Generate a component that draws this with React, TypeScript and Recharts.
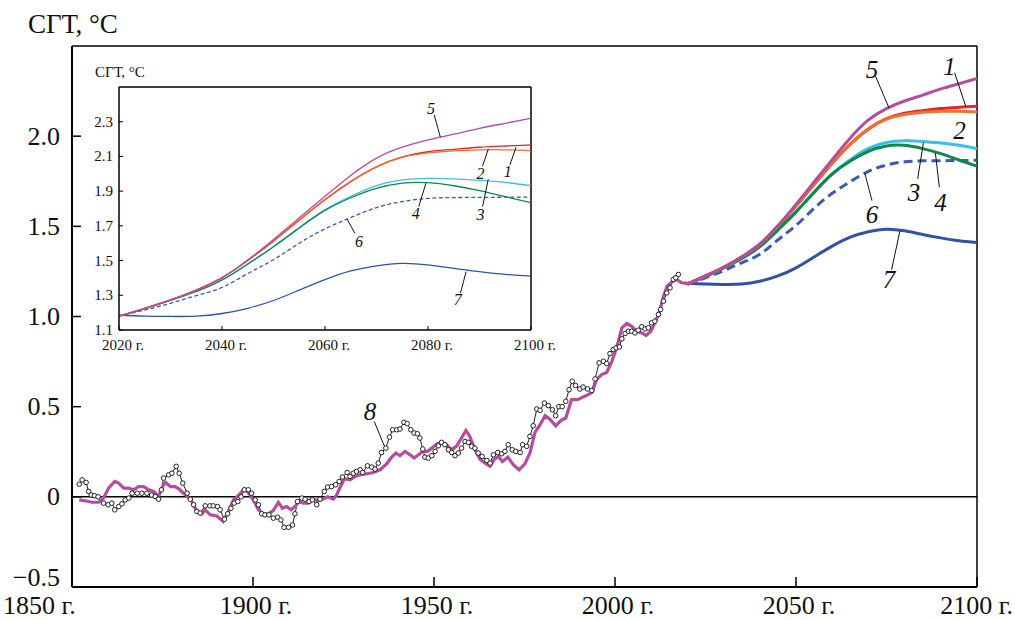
import React from 'react';
import { ComposedChart, Line, XAxis, YAxis, ReferenceLine, ReferenceDot } from 'recharts';

const FONT = '"Liberation Serif", "Times New Roman", Times, serif';

// ---- ticks ----
const mainXTicks = [1850, 1900, 1950, 2000, 2050, 2100];
const mainYTicks = [-0.5, 0, 0.5, 1.0, 1.5, 2.0];
const insetXTicks = [2020, 2040, 2060, 2080, 2100];
const insetYTicks = [1.1, 1.3, 1.5, 1.7, 1.9, 2.1, 2.3];

// ---- series 8: observations ----
const obsYears = [
  1852.0, 1852.8, 1853.9, 1854.6, 1855.3, 1856.2, 1857.2, 1858.7, 1860.0, 1861.0,
  1861.8, 1862.9, 1863.8, 1864.7, 1865.7, 1866.6, 1868.0, 1869.3, 1870.7, 1872.0,
  1873.0, 1873.9, 1874.7, 1875.3, 1876.7, 1877.6, 1878.8, 1879.6, 1880.6, 1881.8,
  1882.7, 1883.6, 1884.5, 1885.4, 1886.8, 1888.1, 1889.0, 1890.2, 1890.9, 1892.1,
  1893.0, 1893.9, 1894.8, 1895.8, 1896.7, 1897.6, 1898.7, 1899.6, 1900.6, 1901.5,
  1902.4, 1903.3, 1904.4, 1905.6, 1906.8, 1907.7, 1908.6, 1909.8, 1910.9, 1911.6,
  1912.3, 1913.5, 1914.4, 1915.5, 1916.4, 1917.6, 1918.5, 1919.7, 1920.6, 1921.7,
  1922.8, 1923.8, 1924.7, 1926.0, 1926.8, 1927.7, 1928.6, 1929.6, 1930.3, 1931.6,
  1932.8, 1933.7, 1934.6, 1935.5, 1936.7, 1937.7, 1938.6, 1939.7, 1940.6, 1941.7,
  1942.6, 1943.6, 1944.5, 1945.4, 1946.1, 1946.9, 1947.5, 1948.4, 1949.4, 1950.3,
  1951.2, 1952.1, 1953.0, 1954.0, 1954.9, 1955.8, 1956.7, 1957.6, 1958.6, 1959.5,
  1960.4, 1961.3, 1962.2, 1963.3, 1964.6, 1965.5, 1966.4, 1967.6, 1968.7, 1969.6,
  1970.5, 1971.6, 1972.6, 1973.8, 1974.5, 1975.6, 1976.5, 1977.4, 1978.4, 1979.3,
  1980.5, 1981.6, 1982.7, 1983.6, 1984.5, 1985.4, 1986.4, 1987.3, 1988.2, 1989.1,
  1990.3, 1991.2, 1992.4, 1993.6, 1994.5, 1995.6, 1996.8, 1997.7, 1998.6, 1999.5,
  2000.3, 2001.2, 2001.9, 2002.8, 2003.7, 2004.6, 2005.5, 2006.4, 2007.4, 2008.3,
  2009.2, 2010.1, 2011.0, 2012.0, 2012.6, 2013.4, 2014.3, 2015.2, 2016.1, 2016.8,
  2017.5,
];
const obsValues = [
  0.07, 0.094, 0.08, 0.03, 0.01, 0.006, 0.0, -0.035, -0.044, -0.035,
  -0.072, -0.054, -0.039, -0.017, -0.007, 0.02, 0.02, 0.02, 0.02, 0.01,
  0.002, -0.013, 0.039, 0.104, 0.122, 0.131, 0.169, 0.131, 0.076, 0.02,
  -0.013, -0.044, -0.081, -0.09, -0.05, -0.05, -0.05, -0.054, -0.072, -0.124,
  -0.094, -0.063, -0.035, -0.026, 0.0, 0.039, 0.039, 0.02, -0.017, -0.044,
  -0.094, -0.1, -0.1, -0.118, -0.113, -0.128, -0.169, -0.169, -0.156, -0.094,
  -0.026, -0.007, -0.013, -0.026, -0.017, -0.044, -0.013, 0.03, 0.054, 0.057,
  0.067, 0.085, 0.11, 0.135, 0.113, 0.131, 0.141, 0.15, 0.135, 0.172,
  0.165, 0.154, 0.187, 0.246, 0.27, 0.331, 0.372, 0.372, 0.376, 0.413,
  0.406, 0.372, 0.354, 0.35, 0.326, 0.265, 0.22, 0.215, 0.228, 0.252,
  0.283, 0.302, 0.289, 0.261, 0.246, 0.228, 0.243, 0.27, 0.307, 0.302,
  0.28, 0.27, 0.243, 0.224, 0.202, 0.187, 0.233, 0.246, 0.239, 0.252,
  0.289, 0.261, 0.252, 0.246, 0.289, 0.28, 0.335, 0.394, 0.487, 0.48,
  0.52, 0.506, 0.483, 0.45, 0.5, 0.5, 0.53, 0.594, 0.641, 0.617,
  0.598, 0.609, 0.598, 0.59, 0.654, 0.743, 0.752, 0.739, 0.794, 0.817,
  0.826, 0.831, 0.876, 0.906, 0.918, 0.918, 0.909, 0.924, 0.943, 0.931,
  0.937, 0.965, 0.974, 1.011, 1.039, 1.085, 1.131, 1.159, 1.206, 1.215,
  1.233,
];

// ---- historical model run (continues as scenario 5) ----
const histYears = [
  1852.0, 1853.7, 1855.5, 1857.4, 1858.7, 1860.1, 1861.8, 1862.9, 1864.3, 1865.7,
  1867.0, 1868.4, 1869.8, 1871.2, 1872.6, 1873.9, 1875.0, 1875.8, 1877.2, 1878.5,
  1879.6, 1880.8, 1882.0, 1883.1, 1884.5, 1885.9, 1886.8, 1888.2, 1890.0, 1891.8,
  1893.2, 1894.6, 1895.9, 1897.6, 1898.7, 1900.1, 1901.5, 1902.8, 1904.2, 1905.6,
  1907.0, 1908.1, 1909.3, 1910.5, 1911.6, 1912.7, 1913.9, 1915.3, 1916.4, 1917.9,
  1919.2, 1920.6, 1922.2, 1923.1, 1924.0, 1925.3, 1926.8, 1928.2, 1929.6, 1931.4,
  1933.2, 1935.1, 1936.9, 1938.3, 1939.5, 1940.6, 1942.0, 1943.4, 1944.5, 1945.7,
  1946.9, 1948.2, 1949.4, 1950.8, 1952.1, 1953.5, 1954.9, 1956.3, 1957.6, 1958.8,
  1959.9, 1961.3, 1962.7, 1964.1, 1965.5, 1966.7, 1967.8, 1968.9, 1970.4, 1971.9,
  1973.5, 1975.1, 1976.5, 1977.9, 1979.3, 1980.7, 1982.0, 1983.6, 1985.1, 1986.4,
  1988.0, 1989.7, 1991.2, 1992.6, 1993.7, 1994.9, 1996.3, 1997.7, 1999.1, 2000.5,
  2001.9, 2003.3, 2004.6, 2006.0, 2007.4, 2008.6, 2009.9, 2011.0, 2012.2, 2013.4,
  2014.4, 2015.7, 2017.0, 2018.4, 2019.6, 2020.0,
];
const histValues = [
  -0.017, -0.022, -0.03, -0.03, -0.007, 0.048, 0.085, 0.076, 0.048, 0.048,
  0.039, 0.057, 0.057, 0.039, 0.03, 0.002, 0.057, 0.08, 0.057, 0.057,
  0.043, 0.02, 0.002, -0.026, -0.081, -0.094, -0.072, -0.1, -0.106, -0.137,
  -0.081, -0.017, 0.006, 0.043, 0.024, -0.017, -0.072, -0.094, -0.094, -0.076,
  -0.031, -0.063, -0.054, -0.072, -0.054, -0.026, -0.035, -0.035, -0.017, -0.02,
  -0.013, 0.0, -0.013, 0.011, 0.05, 0.1, 0.094, 0.113, 0.122, 0.128,
  0.135, 0.15, 0.183, 0.22, 0.243, 0.228, 0.252, 0.233, 0.215, 0.233,
  0.252, 0.252, 0.27, 0.294, 0.302, 0.289, 0.261, 0.283, 0.326, 0.368,
  0.335, 0.262, 0.209, 0.187, 0.169, 0.209, 0.224, 0.196, 0.22, 0.178,
  0.15, 0.183, 0.243, 0.357, 0.4, 0.45, 0.431, 0.394, 0.424, 0.437,
  0.539, 0.539, 0.554, 0.567, 0.58, 0.65, 0.678, 0.69, 0.75, 0.83,
  0.937, 0.961, 0.946, 0.918, 0.909, 0.894, 0.918, 0.965, 1.02, 1.113,
  1.168, 1.191, 1.206, 1.187, 1.185, 1.18,
];

// ---- scenarios 2020-2100 ----
const projYears = [2020, 2025, 2030, 2035, 2040, 2045, 2050, 2055, 2060, 2065, 2070, 2075, 2080, 2085, 2090, 2095, 2100];
const proj1 = [1.18, 1.225, 1.273, 1.33, 1.4, 1.5, 1.612, 1.732, 1.85, 1.955, 2.04, 2.097, 2.127, 2.141, 2.153, 2.16, 2.166];
const proj2 = [1.18, 1.225, 1.273, 1.33, 1.4, 1.502, 1.615, 1.735, 1.853, 1.957, 2.04, 2.095, 2.12, 2.132, 2.138, 2.138, 2.134];
const proj3 = [1.18, 1.222, 1.27, 1.322, 1.388, 1.48, 1.58, 1.69, 1.792, 1.87, 1.932, 1.965, 1.974, 1.971, 1.962, 1.95, 1.932];
const proj4 = [1.18, 1.222, 1.27, 1.322, 1.388, 1.48, 1.58, 1.688, 1.789, 1.862, 1.916, 1.946, 1.949, 1.931, 1.903, 1.868, 1.834];
const proj5 = [1.18, 1.225, 1.273, 1.33, 1.402, 1.503, 1.622, 1.746, 1.87, 1.99, 2.09, 2.153, 2.195, 2.228, 2.262, 2.291, 2.32];
const proj6 = [1.18, 1.215, 1.254, 1.298, 1.345, 1.425, 1.505, 1.6, 1.683, 1.748, 1.805, 1.84, 1.858, 1.863, 1.864, 1.865, 1.866];
const proj7 = [1.185, 1.18, 1.178, 1.18, 1.195, 1.225, 1.27, 1.33, 1.39, 1.44, 1.47, 1.484, 1.475, 1.455, 1.436, 1.42, 1.41];

const obsData = obsYears.map((year, i) => ({ year, value: obsValues[i] }));
const histData = histYears.map((year, i) => ({ year, value: histValues[i] }));
const projData = projYears.map((year, i) => ({
  year, s1: proj1[i], s2: proj2[i], s3: proj3[i], s4: proj4[i], s5: proj5[i], s6: proj6[i], s7: proj7[i],
}));

const MAGENTA = '#b44d9f';
const series = [
  { key: 's7', color: '#3152a3', dash: false },
  { key: 's6', color: '#3d5aae', dash: true },
  { key: 's3', color: '#3dbdea', dash: false },
  { key: 's4', color: '#12874a', dash: false },
  { key: 's1', color: '#e5232b', dash: false },
  { key: 's2', color: '#f26f2e', dash: false },
  { key: 's5', color: MAGENTA, dash: false },
];

// annotation labels (data coordinates)
const mainLabels = [
  { text: '5', at: [2071.0, 2.372], from: [2071.96, 2.333], to: [2075.7, 2.156] },
  { text: '1', at: [2092.4, 2.389], from: [2093.8, 2.352], to: [2096.9, 2.165] },
  { text: '2', at: [2095.2, 2.034] },
  { text: '3', at: [2082.6, 1.689], from: [2083.6, 1.763], to: [2085.2, 1.963] },
  { text: '4', at: [2089.9, 1.633], from: [2089.6, 1.717], to: [2088.5, 1.907] },
  { text: '6', at: [2071.0, 1.567], from: [2071.0, 1.642], to: [2069.0, 1.795] },
  { text: '7', at: [2075.7, 1.203], from: [2076.4, 1.259], to: [2078.7, 1.474] },
  { text: '8', at: [1932.3, 0.474], from: [1933.5, 0.418], to: [1936.5, 0.271] },
];
const insetLabels = [
  { text: '5', at: [2080.6, 2.378], from: [2081.2, 2.339], to: [2082.4, 2.211] },
  { text: '2', at: [2090.2, 2.003], from: [2090.6, 2.045], to: [2091.7, 2.142] },
  { text: '1', at: [2095.5, 2.012], from: [2095.9, 2.051], to: [2097.1, 2.153] },
  { text: '4', at: [2077.6, 1.769], from: [2078.2, 1.811], to: [2079.6, 1.946] },
  { text: '3', at: [2090.2, 1.763], from: [2090.6, 1.811], to: [2091.7, 1.969] },
  { text: '6', at: [2066.6, 1.609], from: [2065.8, 1.657], to: [2064.3, 1.738] },
  { text: '7', at: [2085.8, 1.273], from: [2086.3, 1.312], to: [2087.4, 1.436] },
];

const fmtMain = (v: number) => (v === 0 ? '0' : (v < 0 ? '\u2212' : '') + Math.abs(v).toFixed(1));

const MainYTick = (props: any) => {
  const { x, y, payload } = props;
  const ax = x + 12;
  const dy = payload.value === -0.5 ? -10 : 0;
  return (
    <g>
      <line x1={ax} x2={ax + 9} y1={y} y2={y} stroke="#000" strokeWidth={1.5} />
      <text x={x} y={y + dy} textAnchor="end" dominantBaseline="central" fontFamily={FONT} fontSize={26} fill="#111">
        {fmtMain(payload.value)}
      </text>
    </g>
  );
};

const MainXTick = (props: any) => {
  const { x, y, payload } = props;
  const isFirst = payload.value === 1850;
  const isLast = payload.value === 2100;
  const anchor = isFirst ? 'start' : isLast ? 'end' : 'middle';
  const tx = isFirst ? 3 : isLast ? x + 36 : x + 3;
  return (
    <g>
      <line x1={x} x2={x} y1={y} y2={y - 10} stroke="#000" strokeWidth={1.5} />
      <text x={tx} y={y + 27} textAnchor={anchor} fontFamily={FONT} fontSize={26} fill="#111">
        {payload.value + ' г.'}
      </text>
    </g>
  );
};

const InsetYTick = (props: any) => {
  const { x, y, payload } = props;
  const ax = x + 6;
  return (
    <g>
      <line x1={ax} x2={ax + 4} y1={y} y2={y} stroke="#000" strokeWidth={1} />
      <text x={x} y={y} textAnchor="end" dominantBaseline="central" fontFamily={FONT} fontSize={15} fill="#111">
        {payload.value.toFixed(1)}
      </text>
    </g>
  );
};

const InsetXTick = (props: any) => {
  const { x, y, payload } = props;
  return (
    <g>
      <line x1={x} x2={x} y1={y} y2={y - 4} stroke="#000" strokeWidth={1} />
      <text x={x + 4} y={y + 20} textAnchor="middle" fontFamily={FONT} fontSize={15} fill="#111">
        {payload.value + ' г.'}
      </text>
    </g>
  );
};

const renderAnnotations = (labels: any[], fontSize: number, prefix: string) => {
  const out: any[] = [];
  labels.forEach((l, i) => {
    if (l.from) {
      out.push(
        <ReferenceLine
          key={prefix + 'l' + i}
          segment={[{ x: l.from[0], y: l.from[1] }, { x: l.to[0], y: l.to[1] }]}
          stroke="#111"
          strokeWidth={1}
          ifOverflow="visible"
        />
      );
    }
    out.push(
      <ReferenceDot
        key={prefix + 't' + i}
        x={l.at[0]}
        y={l.at[1]}
        r={1}
        ifOverflow="visible"
        shape={(p: any) => (
          <text x={p.cx} y={p.cy} textAnchor="middle" dominantBaseline="central" fontFamily={FONT}
            fontStyle="italic" fontSize={fontSize} fill="#111">
            {l.text}
          </text>
        )}
      />
    );
  });
  return out;
};

export default function App() {
  return (
    <div style={{ position: 'absolute', left: 0, top: 0, width: 1015, height: 620, background: '#fff', overflow: 'hidden' }}>
      <div style={{ position: 'absolute', left: 0, top: 0 }}>
        <ComposedChart width={1015} height={620} margin={{ top: 46, right: 38, bottom: 0, left: 0 }}>
          <XAxis
            dataKey="year"
            type="number"
            domain={[1850, 2100]}
            ticks={mainXTicks}
            interval={0}
            allowDataOverflow
            height={33}
            tickSize={0}
            tickMargin={0}
            tickLine={false}
            tick={(p: any) => <MainXTick {...p} />}
            axisLine={{ stroke: '#000', strokeWidth: 2 }}
          />
          <YAxis
            type="number"
            domain={[-0.5, 2.5]}
            ticks={mainYTicks}
            interval={0}
            allowDataOverflow
            width={72}
            tickSize={0}
            tickMargin={12}
            tickLine={false}
            tick={(p: any) => <MainYTick {...p} />}
            axisLine={{ stroke: '#000', strokeWidth: 2 }}
            label={() => (
              <text x={28} y={33} fontFamily={FONT} fontSize={27} fill="#111">СГТ, °С</text>
            )}
          />
          <ReferenceLine y={2.5} stroke="#000" strokeWidth={1.5} />
          <ReferenceLine x={2100} stroke="#000" strokeWidth={1.5} />
          <ReferenceLine y={0} stroke="#000" strokeWidth={1.5} />
          <Line
            data={obsData}
            dataKey="value"
            type="linear"
            stroke="#222"
            strokeWidth={1}
            dot={{ r: 2.3, stroke: '#222', strokeWidth: 1, fill: '#fff' }}
            isAnimationActive={false}
          />
          <Line data={histData} dataKey="value" type="linear" stroke={MAGENTA} strokeWidth={3.2} dot={false} isAnimationActive={false} />
          {series.map((s) => (
            <Line
              key={s.key}
              data={projData}
              dataKey={s.key}
              type="natural"
              stroke={s.color}
              strokeWidth={3}
              strokeDasharray={s.dash ? '9 5' : undefined}
              dot={false}
              isAnimationActive={false}
            />
          ))}
          {renderAnnotations(mainLabels, 25, 'm')}
        </ComposedChart>
      </div>
      <div style={{ position: 'absolute', left: 0, top: 0 }}>
        <ComposedChart width={560} height={360} margin={{ top: 87, right: 29, bottom: 0, left: 0 }}>
          <XAxis
            dataKey="year"
            type="number"
            domain={[2020, 2100]}
            ticks={insetXTicks}
            interval={0}
            allowDataOverflow
            height={30}
            tickSize={0}
            tickMargin={0}
            tickLine={false}
            tick={(p: any) => <InsetXTick {...p} />}
            axisLine={{ stroke: '#000', strokeWidth: 1.5 }}
          />
          <YAxis
            type="number"
            domain={[1.1, 2.5]}
            ticks={insetYTicks}
            interval={0}
            allowDataOverflow
            width={119}
            tickSize={0}
            tickMargin={6}
            tickLine={false}
            tick={(p: any) => <InsetYTick {...p} />}
            axisLine={{ stroke: '#000', strokeWidth: 1.5 }}
            label={() => (
              <text x={95} y={77} fontFamily={FONT} fontSize={15} fill="#111">СГТ, °С</text>
            )}
          />
          <ReferenceLine y={2.5} stroke="#000" strokeWidth={1.5} />
          <ReferenceLine x={2100} stroke="#000" strokeWidth={1.5} />
          {series.map((s) => (
            <Line
              key={'i' + s.key}
              data={projData}
              dataKey={s.key}
              type="natural"
              stroke={s.color}
              strokeWidth={1.3}
              strokeDasharray={s.dash ? '4 2.5' : undefined}
              dot={false}
              isAnimationActive={false}
            />
          ))}
          {renderAnnotations(insetLabels, 16, 'i')}
        </ComposedChart>
      </div>
    </div>
  );
}
